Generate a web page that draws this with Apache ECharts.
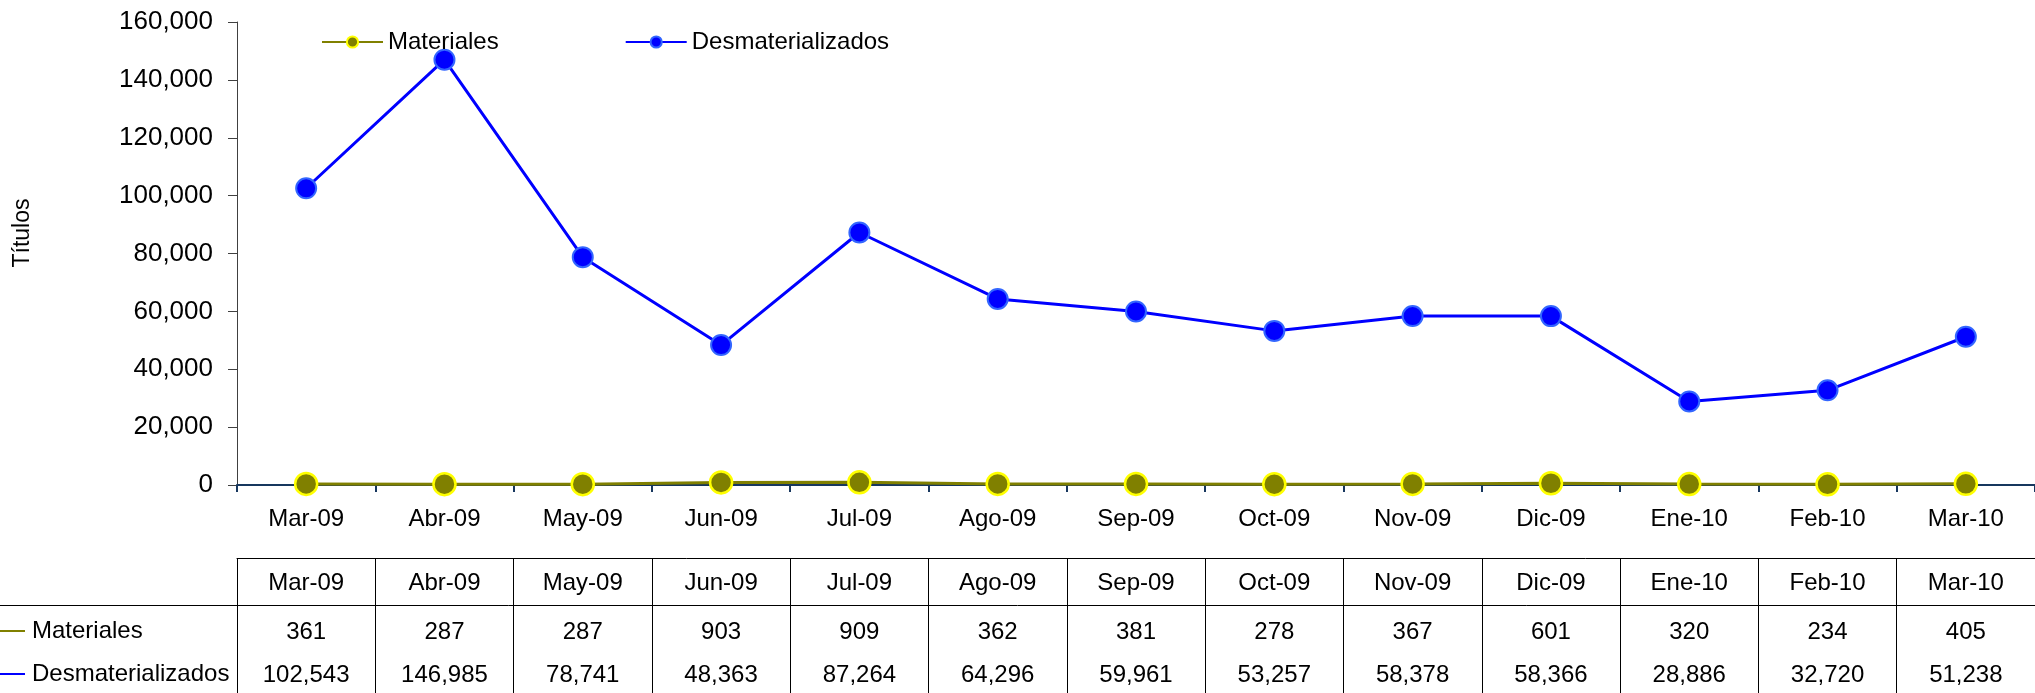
<!DOCTYPE html>
<html><head><meta charset="utf-8">
<script src="https://cdn.jsdelivr.net/npm/echarts@6/dist/echarts.min.js"></script>
<style>html,body{margin:0;padding:0;background:#fff}#c{width:2035px;height:693px}</style>
</head><body><div id="c"></div>
<script>
const categories = ['Mar-09','Abr-09','May-09','Jun-09','Jul-09','Ago-09','Sep-09','Oct-09','Nov-09','Dic-09','Ene-10','Feb-10','Mar-10'];
const materiales = [361, 287, 287, 903, 909, 362, 381, 278, 367, 601, 320, 234, 405];
const desmaterializados = [102543, 146985, 78741, 48363, 87264, 64296, 59961, 53257, 58378, 58366, 28886, 32720, 51238];
const seriesNames = ['Materiales', 'Desmaterializados'];
const yAxisTitle = 'Títulos';
const yMin = 0, yMax = 160000, yInterval = 20000;

const FONT = 'Liberation Sans, Arial, sans-serif';
const FS = 24;
const fmt = n => String(n).replace(/\B(?=(\d{3})+(?!\d))/g, ',');
const OLIVE = '#808000', BLUE = '#0000FF', NAVY = '#17375E';

const chart = echarts.init(document.getElementById('c'), null, {renderer: 'canvas'});

const gridTop = 22, gridH = 463, gridLeft = 237, gridW = 1803;

const option = {
  animation: false,
  backgroundColor: '#fff',
  textStyle: {fontFamily: FONT, color: '#000'},
  grid: {left: gridLeft, top: gridTop, width: gridW, height: gridH, containLabel: false},
  legend: {
    left: 316, top: 25,
    itemWidth: 61, itemHeight: 14, itemGap: 126,
    textStyle: {fontFamily: FONT, fontSize: FS, color: '#000'},
    data: seriesNames
  },
  xAxis: [
    { // main axis
      type: 'category', data: categories, position: 'bottom', boundaryGap: true,
      axisLine: {show: true, lineStyle: {color: NAVY, width: 2}},
      axisTick: {show: true, length: 7, lineStyle: {color: NAVY, width: 2}},
      axisLabel: {margin: 22, fontSize: FS, color: '#000', fontFamily: FONT, interval: 0},
      splitLine: {show: false}
    },
    { // table header row with vertical grid lines
      type: 'category', data: categories, position: 'bottom', offset: 73, boundaryGap: true,
      axisLine: {show: true, lineStyle: {color: '#000', width: 1}},
      axisTick: {show: true, length: 140, lineStyle: {color: '#000', width: 1}},
      axisLabel: {margin: 13, fontSize: FS, color: '#000', fontFamily: FONT, interval: 0},
      splitLine: {show: false}
    },
    { // Materiales row
      type: 'category', data: categories, position: 'bottom', offset: 0, boundaryGap: true,
      axisLine: {show: false}, axisTick: {show: false},
      axisLabel: {margin: 135, fontSize: FS, color: '#000', fontFamily: FONT, interval: 0,
        formatter: (v, i) => fmt(materiales[i])},
      splitLine: {show: false}
    },
    { // Desmaterializados row
      type: 'category', data: categories, position: 'bottom', offset: 0, boundaryGap: true,
      axisLine: {show: false}, axisTick: {show: false},
      axisLabel: {margin: 178, fontSize: FS, color: '#000', fontFamily: FONT, interval: 0,
        formatter: (v, i) => fmt(desmaterializados[i])},
      splitLine: {show: false}
    }
  ],
  yAxis: {
    type: 'value', min: yMin, max: yMax, interval: yInterval,
    axisLine: {show: true, lineStyle: {color: '#404040', width: 1}},
    axisTick: {show: true, length: 9, lineStyle: {color: '#404040', width: 1}},
    axisLabel: {margin: 24, fontSize: 26, color: '#000', fontFamily: FONT, formatter: v => fmt(v)},
    splitLine: {show: false}
  },
  graphic: [
    {type: 'text', x: 23, y: 233, rotation: Math.PI / 2,
      style: {text: yAxisTitle, font: '23px ' + FONT, fill: '#000', align: 'center', verticalAlign: 'middle'}},
    {type: 'line', shape: {x1: 0, y1: 605.5, x2: 2035, y2: 605.5}, style: {stroke: '#000', lineWidth: 1}},
    {type: 'line', shape: {x1: 0, y1: 631, x2: 25, y2: 631}, style: {stroke: OLIVE, lineWidth: 2}},
    {type: 'text', x: 32, y: 631, style: {text: seriesNames[0], font: FS + 'px ' + FONT, fill: '#000', verticalAlign: 'middle'}},
    {type: 'line', shape: {x1: 0, y1: 674, x2: 25, y2: 674}, style: {stroke: BLUE, lineWidth: 2}},
    {type: 'text', x: 32, y: 674, style: {text: seriesNames[1], font: FS + 'px ' + FONT, fill: '#000', verticalAlign: 'middle'}}
  ],
  series: [
    {
      name: seriesNames[1], type: 'line', data: desmaterializados, xAxisIndex: 0,
      symbol: 'circle', symbolSize: 20, z: 2,
      lineStyle: {color: BLUE, width: 3},
      itemStyle: {color: BLUE, borderColor: '#3366FF', borderWidth: 2}
    },
    {
      name: seriesNames[0], type: 'line', data: materiales, xAxisIndex: 0,
      symbol: 'circle', symbolSize: 22, z: 3,
      lineStyle: {color: OLIVE, width: 3},
      itemStyle: {color: OLIVE, borderColor: '#FFFF00', borderWidth: 2.5}
    }
  ]
};
chart.setOption(option);
</script>
</body></html>
